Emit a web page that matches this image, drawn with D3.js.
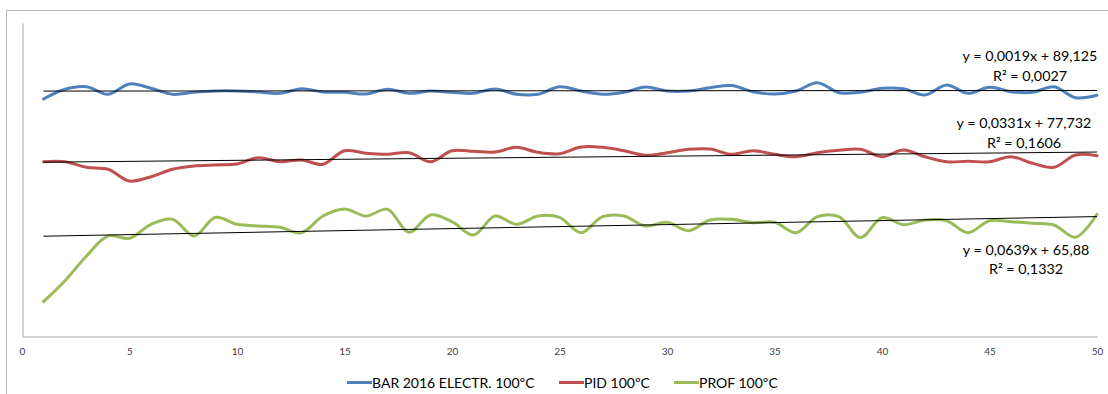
<!DOCTYPE html>
<html>
<head>
<meta charset="utf-8">
<script src="https://cdn.jsdelivr.net/npm/d3@7"></script>
<style>
  html, body { margin: 0; padding: 0; background: #fff; }
  svg { display: block; font-family: Lato, "Open Sans", sans-serif; }
</style>
</head>
<body>
<svg id="chart" width="1108" height="394"></svg>
<script>
// ---- data ----
const xValues = d3.range(1, 51);
const seriesNames = ["BAR 2016 ELECTR. 100ºC", "PID 100ºC", "PROF 100ºC"];
const barValues = [87.86, 89.41, 89.82, 88.61, 90.26, 89.57, 88.61, 88.93, 89.14, 89.14,
  88.98, 88.77, 89.5, 88.98, 88.93, 88.66, 89.41, 88.77, 89.14, 88.93,
  88.77, 89.46, 88.61, 88.61, 89.82, 89.14, 88.61, 88.93, 89.78, 89.14,
  89.14, 89.66, 90.0, 89.03, 88.66, 89.14, 90.46, 88.87, 88.93, 89.57,
  89.5, 88.5, 90.1, 88.77, 89.73, 89.03, 88.93, 89.82, 88.07, 88.45];
const pidValues = [77.84, 77.84, 76.95, 76.63, 74.76, 75.45, 76.63, 77.16, 77.32, 77.48,
  78.48, 77.84, 78.12, 77.43, 79.6, 79.2, 79.03, 79.28, 77.84, 79.6,
  79.5, 79.39, 80.14, 79.34, 79.12, 80.19, 80.14, 79.6, 78.87, 79.28,
  79.82, 79.87, 79.03, 79.6, 79.03, 78.64, 79.28, 79.66, 79.82, 78.64,
  79.71, 78.64, 77.84, 77.91, 77.84, 78.64, 77.59, 76.95, 78.91, 78.8];
const profValues = [55.48, 58.83, 62.78, 65.97, 65.61, 67.84, 68.64, 65.97, 68.96, 67.84,
  67.57, 67.36, 66.5, 69.17, 70.29, 69.17, 70.24, 66.57, 69.33, 68.26,
  66.13, 69.17, 67.84, 69.17, 68.96, 66.5, 69.06, 69.17, 67.57, 68.16,
  66.82, 68.53, 68.64, 68.1, 68.16, 66.5, 69.06, 69.06, 65.7, 68.9,
  67.78, 68.53, 68.42, 66.5, 68.42, 68.26, 68.0, 67.73, 65.77, 69.44];
const trendSlopes = [0.0019, 0.0331, 0.0639];
const trendIntercepts = [89.125, 77.732, 65.88];
const trendEquations = ["y = 0,0019x + 89,125", "y = 0,0331x + 77,732", "y = 0,0639x + 65,88"];
const trendR2 = ["R² = 0,0027", "R² = 0,1606", "R² = 0,1332"];
const xTicks = [0, 5, 10, 15, 20, 25, 30, 35, 40, 45, 50];

// ---- layout / style ----
const colors = ["#4F81BD", "#C0504D", "#9BBB59"];
const allValues = [barValues, pidValues, profValues];
const svg = d3.select("#chart");

// outer chart border
svg.append("rect").attr("x", 6.5).attr("y", 10.5).attr("width", 1120).attr("height", 400)
  .attr("fill", "none").attr("stroke", "#b8b8b8").attr("stroke-width", 1);

const x = d3.scaleLinear().domain([0, 50]).range([22, 1097]);
const y = d3.scaleLinear().domain([50, 100]).range([336, 23]);

// axes
const xAxis = svg.append("g").attr("transform", "translate(0,336.5)")
  .call(d3.axisBottom(x).tickValues(xTicks).tickSize(0).tickPadding(11).tickFormat(d3.format("d")));
xAxis.select(".domain").attr("stroke", "#a6a6a6");
xAxis.selectAll("text").attr("font-size", 10).attr("fill", "#404040")
  .attr("font-family", "Lato, sans-serif");

const yAxis = svg.append("g").attr("transform", "translate(22.5,0)")
  .call(d3.axisLeft(y).tickValues([]).tickSize(0));
yAxis.select(".domain").attr("stroke", "#a6a6a6");

// series lines
const line = d3.line().x((d, i) => x(xValues[i])).y(d => y(d)).curve(d3.curveCatmullRom.alpha(0.5));
allValues.forEach((vals, k) => {
  svg.append("path").datum(vals).attr("d", line)
    .attr("fill", "none").attr("stroke", colors[k]).attr("stroke-width", 3)
    .attr("stroke-linejoin", "round").attr("stroke-linecap", "round");
});

// trendlines
const xFirst = xValues[0], xLast = xValues[xValues.length - 1];
trendSlopes.forEach((m, k) => {
  const b = trendIntercepts[k];
  svg.append("line")
    .attr("x1", x(xFirst)).attr("y1", y(m * xFirst + b))
    .attr("x2", x(xLast)).attr("y2", y(m * xLast + b))
    .attr("stroke", "#000").attr("stroke-width", 1);
});

// equation labels
const labelPos = [[1030, 61, 81], [1024, 128, 148], [1026, 255, 274]];
trendEquations.forEach((eq, k) => {
  const [lx, ly1, ly2] = labelPos[k];
  svg.append("text").attr("x", lx).attr("y", ly1).attr("text-anchor", "middle")
    .attr("font-size", 14.3).attr("fill", "#000").text(eq);
  svg.append("text").attr("x", lx).attr("y", ly2).attr("text-anchor", "middle")
    .attr("font-size", 14.3).attr("fill", "#000").text(trendR2[k]);
});

// legend
const legendX = [347, 559, 674];
seriesNames.forEach((name, k) => {
  const lx = legendX[k];
  svg.append("line").attr("x1", lx).attr("x2", lx + 25).attr("y1", 382.5).attr("y2", 382.5)
    .attr("stroke", colors[k]).attr("stroke-width", 3);
  svg.append("text").attr("x", lx + 25).attr("y", 387.5)
    .attr("font-size", 14).attr("fill", "#000").text(name);
});
</script>
</body>
</html>
